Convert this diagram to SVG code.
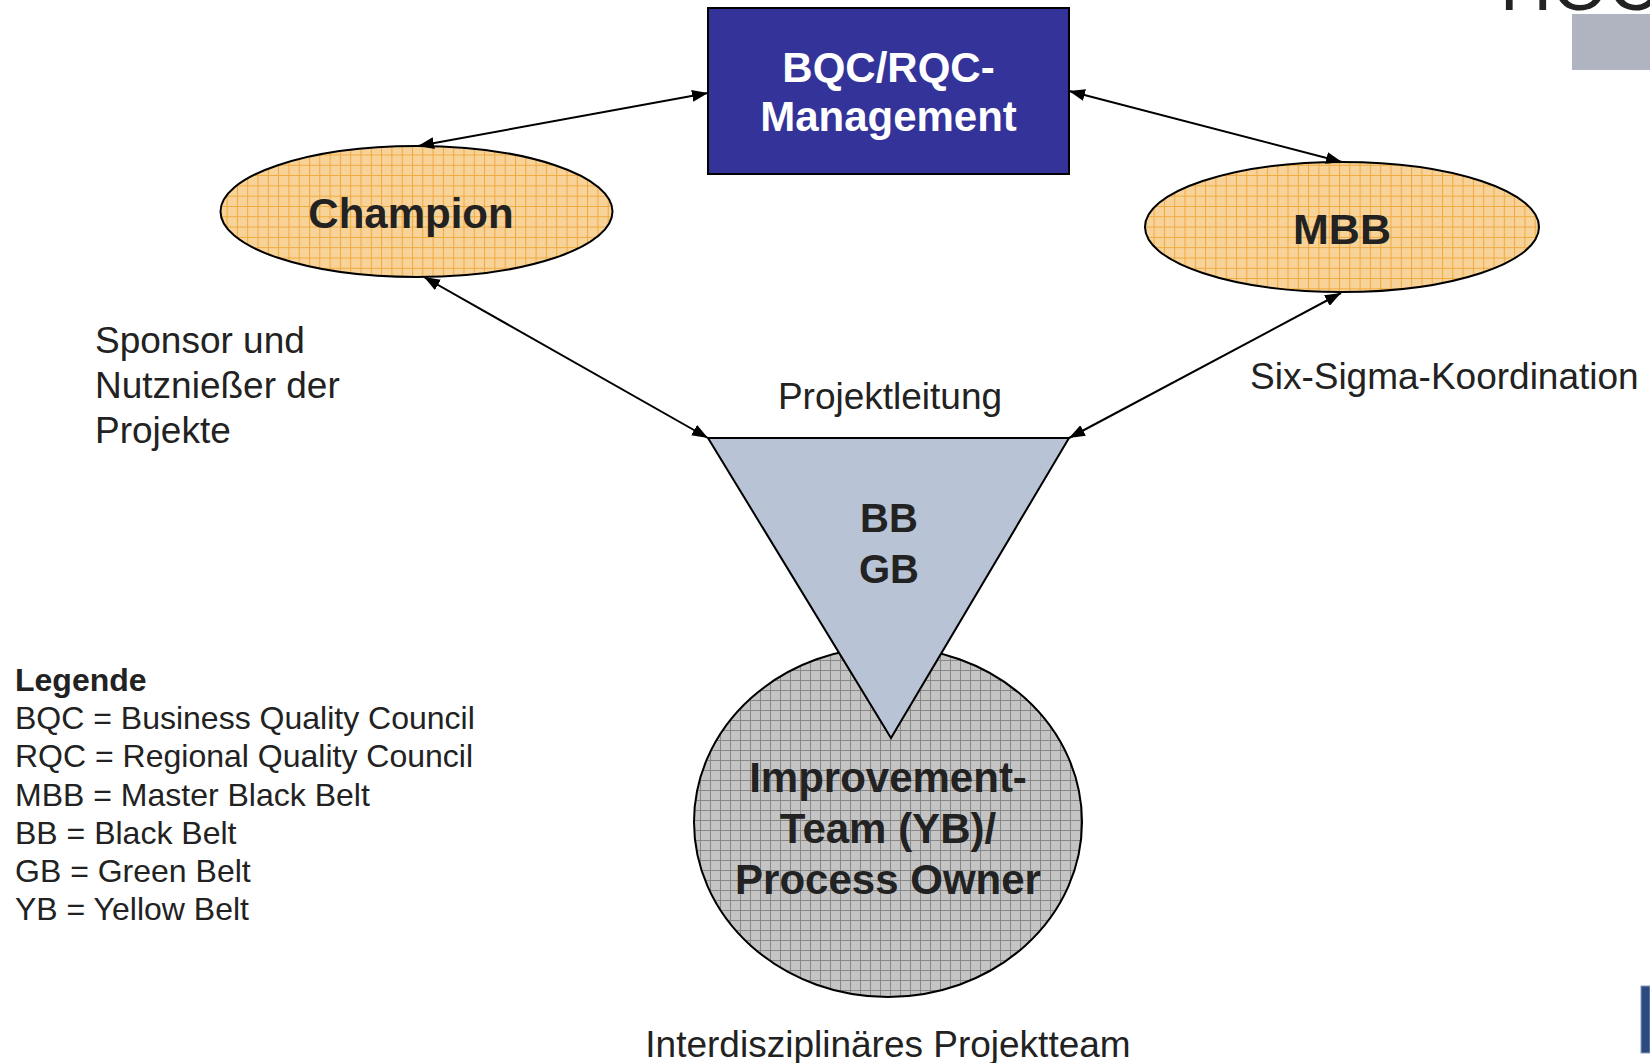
<svg xmlns="http://www.w3.org/2000/svg" width="1650" height="1063" viewBox="0 0 1650 1063">
<style>
.lbl{font-family:"Liberation Sans",Arial,sans-serif;font-size:37px;fill:#222}
.leg{font-family:"Liberation Sans",Arial,sans-serif;font-size:32px;fill:#222}
.bold{font-family:"Liberation Sans",Arial,sans-serif;font-weight:bold;fill:#222;text-anchor:middle}
.conn{stroke:#000;stroke-width:2;fill:none;marker-start:url(#ah);marker-end:url(#ah)}
</style>
<defs>
<marker id="ah" viewBox="0 0 16 12" refX="16" refY="6" markerWidth="16" markerHeight="12" markerUnits="userSpaceOnUse" orient="auto-start-reverse">
<path d="M0,0 L16,6 L0,12 Z" fill="#000"/>
</marker>
<pattern id="orange" width="10.3" height="10.3" patternUnits="userSpaceOnUse">
<rect width="10.3" height="10.3" fill="#f7d39a"/>
<path d="M0,0.5 H10.3 M0.5,0 V10.3" stroke="#f0a93a" stroke-width="1"/>
</pattern>
<pattern id="gray" width="10" height="10" patternUnits="userSpaceOnUse">
<rect width="10" height="10" fill="#c4c4c4"/>
<path d="M0,0.5 H10 M0.5,0 V10" stroke="#888" stroke-width="1"/>
</pattern>
</defs>
<rect width="1650" height="1063" fill="#fff"/>

<g id="corner-decor">
<text x="1500" y="10" style="font-family:'Liberation Sans',Arial,sans-serif;font-size:72px;fill:#222">HOC</text>
<rect x="1572" y="14" width="78" height="56" fill="#b0b3c0"/>
<rect x="1641" y="986" width="9" height="67" fill="#2c4a80" stroke="#8899bb" stroke-width="1"/>
</g>

<g id="improvement-team">
<ellipse cx="888" cy="822" rx="194" ry="175" fill="url(#gray)" stroke="#000" stroke-width="2"/>
<text class="bold" x="888" y="792" font-size="42">Improvement-</text>
<text class="bold" x="888" y="843" font-size="42">Team (YB)/</text>
<text class="bold" x="888" y="894" font-size="42">Process Owner</text>
</g>

<g id="bb-gb">
<polygon points="708,438 1069,438 891,738" fill="#b8c3d5" stroke="#000" stroke-width="2"/>
<text class="bold" x="889" y="532" font-size="40">BB</text>
<text class="bold" x="889" y="583" font-size="40">GB</text>
</g>

<g id="management">
<rect x="708" y="8" width="361" height="166" fill="#333399" stroke="#000" stroke-width="2"/>
<text class="bold" x="888.5" y="82" font-size="42" style="fill:#fff">BQC/RQC-</text>
<text class="bold" x="888.5" y="131" font-size="42" style="fill:#fff">Management</text>
</g>

<g id="champion">
<ellipse cx="416.5" cy="211.5" rx="196" ry="65.5" fill="url(#orange)" stroke="#000" stroke-width="2"/>
<text class="bold" x="411" y="228" font-size="42">Champion</text>
</g>

<g id="mbb">
<ellipse cx="1342" cy="227" rx="197" ry="65" fill="url(#orange)" stroke="#000" stroke-width="2"/>
<text class="bold" x="1342" y="244" font-size="43">MBB</text>
</g>

<g id="connectors">
<line class="conn" x1="418" y1="146" x2="708" y2="93"/>
<line class="conn" x1="1069" y1="91" x2="1342" y2="162"/>
<line class="conn" x1="424" y1="277" x2="708" y2="438"/>
<line class="conn" x1="1341" y1="293" x2="1069" y2="438"/>
</g>

<g id="labels">
<text class="lbl" x="95" y="353">Sponsor und</text>
<text class="lbl" x="95" y="398">Nutznießer der</text>
<text class="lbl" x="95" y="443">Projekte</text>
<text class="lbl" x="890" y="409" text-anchor="middle">Projektleitung</text>
<text class="lbl" x="1250" y="389">Six-Sigma-Koordination</text>
<text class="lbl" x="888" y="1057" text-anchor="middle">Interdisziplinäres Projektteam</text>
</g>

<g id="legend">
<text class="leg" x="15" y="691" font-weight="bold">Legende</text>
<text class="leg" x="15" y="729">BQC = Business Quality Council</text>
<text class="leg" x="15" y="767">RQC = Regional Quality Council</text>
<text class="leg" x="15" y="806">MBB = Master Black Belt</text>
<text class="leg" x="15" y="844">BB = Black Belt</text>
<text class="leg" x="15" y="882">GB = Green Belt</text>
<text class="leg" x="15" y="920">YB = Yellow Belt</text>
</g>
</svg>
